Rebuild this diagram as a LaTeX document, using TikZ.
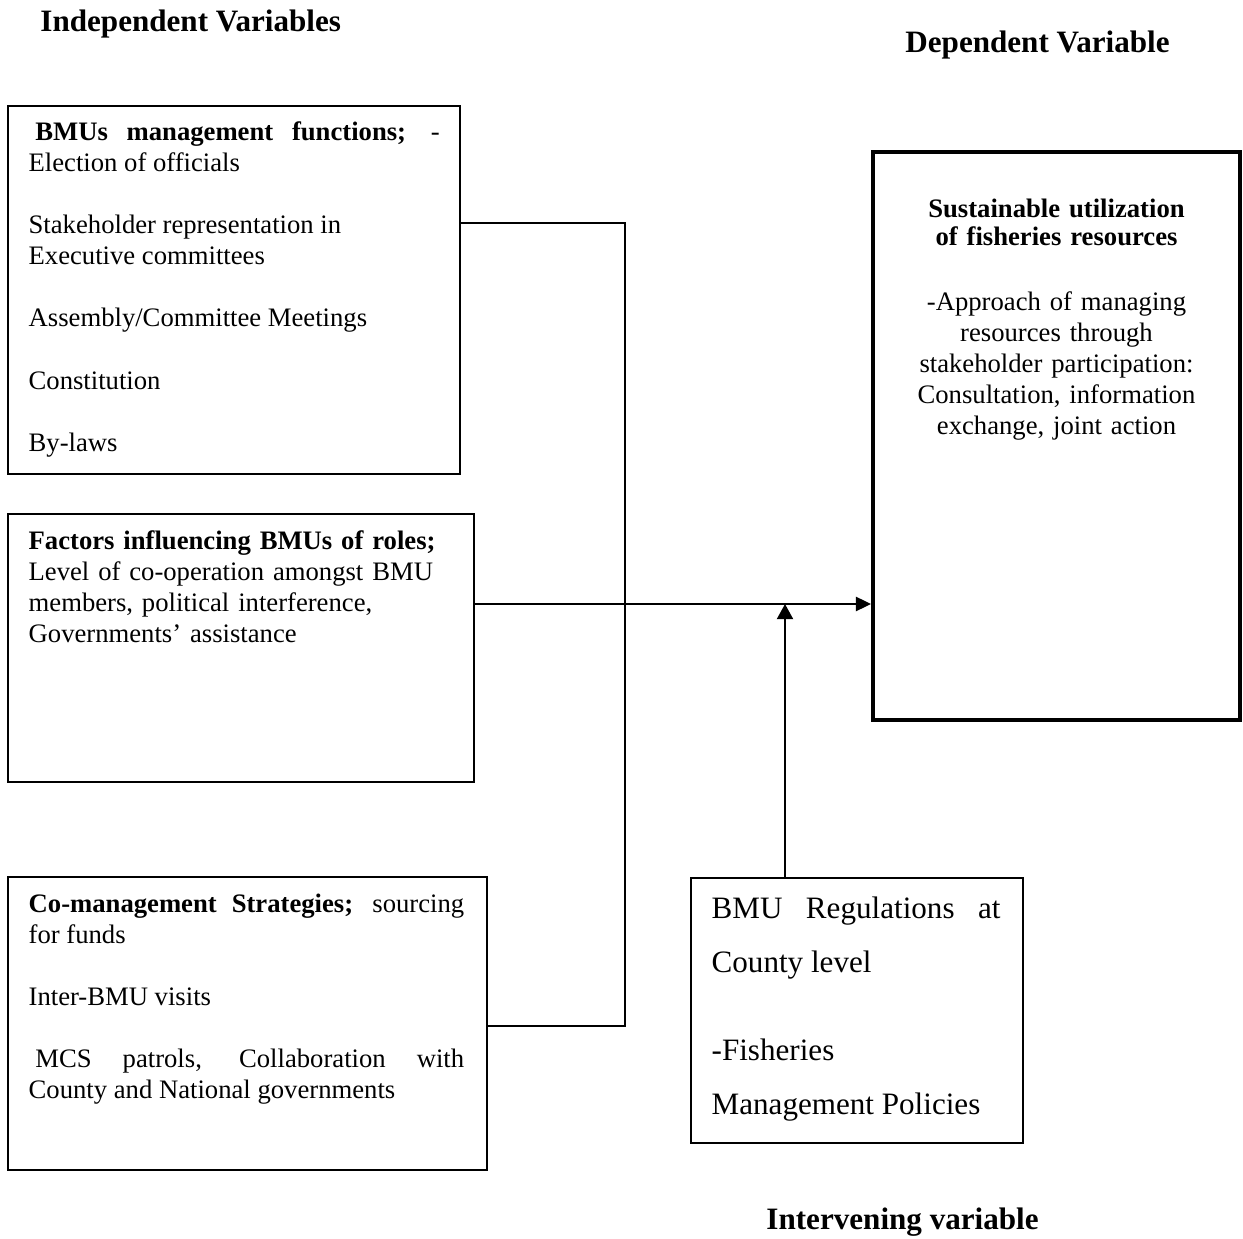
\documentclass[tikz,border=0pt]{standalone}
\usepackage{fontspec}
\setmainfont{Liberation Serif}
\usetikzlibrary{arrows.meta,positioning,fit,calc}

\begin{document}
\begin{tikzpicture}[
    x=0.45pt, y=-0.45pt,
    box/.style={draw, line width=0.7pt, inner sep=0pt},
    depbox/.style={draw, line width=1.8pt, inner sep=0pt},
    boxtxt/.style={inner sep=0pt, anchor=base west, align=justify,
                   font=\fontsize{12}{14}\selectfont},
    lbl/.style={inner sep=0pt, anchor=base west,
                font=\fontsize{14}{16}\selectfont\bfseries},
    conn/.style={line width=0.6pt},
    arr/.style={-{Triangle[length=6.8pt, width=6.4pt]}, line width=0.9pt},
    uparr/.style={-{Triangle[length=6.8pt, width=7.2pt]}, line width=0.9pt},
  ]
    \useasboundingbox (0,0) rectangle (1243,1239);

    % Headings
    \node[lbl] (indeplbl) at (40,32) {Independent Variables};
    \node[lbl] (deplbl) at (905,53) {Dependent Variable};
    \node[lbl] (intlbl) at (766,1229) {Intervening variable};

    % Independent variable boxes
    \node[box, fit={(8,106) (460,474)}] (mgmt) {};
    \node[boxtxt, text width=185pt] (mgmttxt)
      at ($(mgmt.north west)+(21,35)$)
      {\hspace*{3pt}\textbf{BMUs management functions;} -\linebreak
       Election of officials\\[14pt]
       Stakeholder representation in\\
       Executive committees\\[14pt]
       Assembly/Committee Meetings\\[14pt]
       Constitution\\[14pt]
       By-laws};

    \node[box, fit={(8,514) (474,782)}] (fact) {};
    \node[boxtxt, text width=200pt, align=left] (facttxt)
      at ($(fact.north west)+(21,36)$)
      {\textbf{Factors influencing BMUs of roles;}\\
       Level of co-operation amongst BMU\\
       members, political interference,\\
       Governments’ assistance};

    \node[box, fit={(8,877) (487,1170)}] (strat) {};
    \node[boxtxt, text width=196pt] (strattxt)
      at ($(strat.north west)+(21,36)$)
      {\textbf{Co-management Strategies;} sourcing\linebreak
       for funds\\[14pt]
       Inter-BMU visits\\[14pt]
       \hspace*{3pt}MCS patrols, Collaboration with\linebreak
       County and National governments};

    % Dependent variable box
    \node[depbox, fit={(873,152) (1240,720)}] (dep) {};
    \node[boxtxt, anchor=base, align=center, text width=150pt] (deptxt)
      at ($(dep.north)+(0,68)$)
      {\textbf{Sustainable utilization}\\[-1.4pt]
       \textbf{of fisheries resources}\\[15pt]
       -Approach of managing\\
       resources through\\
       stakeholder participation:\\
       Consultation, information\\
       exchange, joint action};

    % Intervening variable box
    \node[box, fit={(691,878) (1023,1143)}] (interv) {};
    \node[boxtxt, text width=130pt, font=\fontsize{14}{24.3}\selectfont] (intervtxt)
      at ($(interv.north west)+(21,41)$)
      {BMU Regulations at\linebreak
       County level\\[15.3pt]
       -Fisheries\\
       Management Policies};

    % Connectors
    \coordinate (jtop) at (625,223);
    \coordinate (jbot) at (625,1026);
    \coordinate (meet) at (625,604);
    \coordinate (hit) at (785,604);

    \draw[conn] (mgmt.east |- jtop) -- (jtop) -- (jbot) -- (strat.east |- jbot);
    \draw[arr] (fact.east |- meet) -- (dep.west |- meet);
    \draw[uparr] (interv.north -| hit) -- (hit);
\end{tikzpicture}
\end{document}
